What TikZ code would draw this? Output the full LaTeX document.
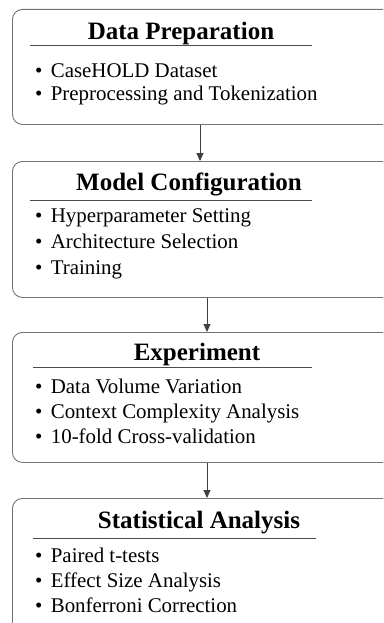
\documentclass[tikz,border=0pt]{standalone}
\usepackage{fontspec}
\setmainfont{Liberation Serif}
\usetikzlibrary{arrows.meta}

\tikzset{
	stage/.style={draw=black!55, line width=0.9pt, rounded corners=10pt, anchor=north west, minimum width=430pt, inner sep=0pt},
	heading/.style={font=\bfseries\fontsize{25}{28}\selectfont, anchor=base, inner sep=0pt},
	entry/.style={font=\fontsize{20.9}{24}\selectfont, anchor=base west, inner sep=0pt},
	underline/.style={draw=black!70, line width=0.9pt},
	flow/.style={-{Triangle[length=8pt,width=7pt]}, draw=black!75, line width=0.9pt}
}
\newcommand{\dotitem}{\textbullet\hspace{0.4em}}

\begin{document}
\begin{tikzpicture}
	\begin{scope}[x={1pt},y={-1pt}]
		\clip (0,0) rectangle (383,623); % page

		% stage boxes (right side runs off the page)
		\node[stage, minimum height=115pt] (prep) at (12,9) {}; % data preparation
		\node[stage, minimum height=136pt] (conf) at (12,161) {}; % model configuration
		\node[stage, minimum height=130pt] (expt) at (12,332) {}; % experiment
		\node[stage, minimum height=160pt] (stat) at (12,498) {}; % statistical analysis

		% box 1
		\node[heading] (prepT) at (181,40) {Data Preparation};
		\draw[underline] (30,45)--(312,45);
		\node[entry] (prepA) at (35,78) {\dotitem CaseHOLD Dataset};
		\node[entry] (prepB) at (35,101) {\dotitem Preprocessing and Tokenization};

		% box 2
		\node[heading] (confT) at (189,190) {Model Configuration};
		\draw[underline] (30,200)--(312,200);
		\node[entry] (confA) at (35,222) {\dotitem Hyperparameter Setting};
		\node[entry] (confB) at (35,248) {\dotitem Architecture Selection};
		\node[entry] (confC) at (35,274) {\dotitem Training};

		% box 3
		\node[heading] (exptT) at (197,360) {Experiment};
		\draw[underline] (33,367)--(312,367);
		\node[entry] (exptA) at (35,393) {\dotitem Data Volume Variation};
		\node[entry] (exptB) at (35,418) {\dotitem Context Complexity Analysis};
		\node[entry] (exptC) at (35,443) {\dotitem 10-fold Cross-validation};

		% box 4
		\node[heading] (statT) at (199,528) {Statistical Analysis};
		\draw[underline] (33,538)--(316,538);
		\node[entry] (statA) at (35,562) {\dotitem Paired t-tests};
		\node[entry] (statB) at (35,587) {\dotitem Effect Size Analysis};
		\node[entry] (statC) at (35,612) {\dotitem Bonferroni Correction};

		% arrows between stages
		\draw[flow] (prep.south -| 200,0)--(conf.north -| 200,0);
		\draw[flow] (conf.south -| 207,0)--(expt.north -| 207,0);
		\draw[flow] (expt.south -| 207,0)--(stat.north -| 207,0);
	\end{scope}
\end{tikzpicture}
\end{document}
